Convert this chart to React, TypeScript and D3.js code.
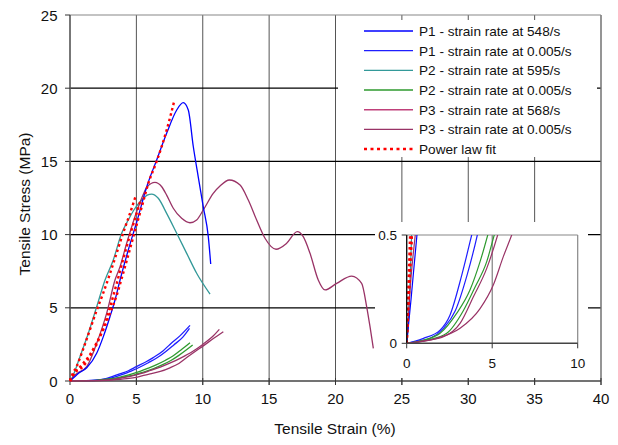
import React from "react";
import * as d3 from "d3";

type Pt = [number, number];

const xTicks = [0, 5, 10, 15, 20, 25, 30, 35, 40];
const yTicks = [0, 5, 10, 15, 20, 25];
const insetXTicks = [0, 5, 10];
const insetYTicks = [0, 0.5];

const legendLabels = [
  "P1 - strain rate at 548/s",
  "P1 - strain rate at 0.005/s",
  "P2 - strain rate at 595/s",
  "P2 - strain rate at 0.005/s",
  "P3 - strain rate at 568/s",
  "P3 - strain rate at 0.005/s",
  "Power law fit",
];

// P1 at 548/s
const p1High: Pt[] = [
  [0, 0], [0.25, 0.2], [0.6, 0.5], [1.26, 0.9], [2.01, 1.89], [2.51, 3.03],
  [3.01, 4.39], [3.39, 5.53], [3.77, 6.9], [4.39, 8.95], [5.07, 11.0], [5.78, 13.27],
  [6.53, 15.1], [7.28, 16.92], [8.04, 18.51], [8.53, 19.01], [8.91, 18.51], [9.29, 16.0],
  [9.66, 13.95], [10.04, 11.9], [10.42, 9.84], [10.6, 7.99],
];
// P2 at 595/s
const p2High: Pt[] = [
  [0, 0], [0.08, 0.07], [0.25, 0.41], [0.75, 1.66], [1.38, 3.26], [2.01, 5.07], [2.64, 6.9],
  [3.26, 8.27], [3.89, 10.09], [4.39, 11.0], [4.9, 11.8], [5.4, 12.36], [5.82, 12.7],
  [6.15, 12.77], [6.65, 12.48], [7.28, 11.45], [8.04, 10.09], [8.79, 8.72], [9.54, 7.36],
  [10.55, 5.94],
];
// P3 at 568/s
const p3High: Pt[] = [
  [0, 0], [0.25, 0.3], [0.5, 0.5], [1.26, 0.98], [2.01, 2.58], [2.76, 4.62], [3.39, 6.9],
  [3.77, 7.81], [4.27, 9.41], [4.65, 10.54], [5.02, 11.56], [5.4, 12.48], [5.82, 13.27],
  [6.4, 13.57], [6.91, 13.27], [7.28, 12.7], [7.78, 11.8], [8.41, 11.11], [9.04, 10.81],
  [9.54, 11.0], [10.04, 11.68], [10.79, 12.82], [11.3, 13.32], [12.0, 13.73], [12.81, 13.39],
  [13.43, 12.36], [14.06, 11.0], [14.69, 9.75], [15.52, 9.0], [16.32, 9.41], [17.12, 10.2],
  [17.57, 9.86], [18.08, 8.72], [18.7, 6.9], [19.21, 6.22], [20.09, 6.67], [21.22, 7.17],
  [21.97, 6.67], [22.35, 5.07], [22.6, 3.71], [22.85, 2.23],
];
// P1 at 0.005/s (two specimens)
const p1LowA: Pt[] = [
  [0, 0], [0.5, 0.01], [0.98, 0.023], [1.95, 0.061], [2.53, 0.13], [3.22, 0.315], [3.8, 0.5],
  [4.4, 0.7], [5.0, 0.98], [5.7, 1.3], [6.27, 1.6], [7.0, 2.05], [7.53, 2.5], [8.3, 3.1], [9.04, 3.8],
];
const p1LowB: Pt[] = [
  [0, 0], [0.7, 0.01], [1.37, 0.023], [2.15, 0.069], [2.84, 0.15], [3.53, 0.315], [4.13, 0.5],
  [4.6, 0.68], [5.2, 0.92], [5.9, 1.25], [6.5, 1.55], [7.2, 2.0], [7.8, 2.45], [8.5, 3.0], [9.0, 3.6],
];
// P2 at 0.005/s
const p2LowA: Pt[] = [
  [0, 0], [1.0, 0.015], [1.95, 0.046], [2.92, 0.138], [3.7, 0.246], [4.29, 0.377], [4.74, 0.5],
  [5.27, 0.66], [5.9, 0.88], [6.53, 1.12], [7.2, 1.42], [7.78, 1.72], [8.4, 2.15], [9.04, 2.62],
];
const p2LowB: Pt[] = [
  [0, 0], [1.2, 0.015], [2.34, 0.046], [3.31, 0.15], [4.0, 0.26], [4.68, 0.377], [5.12, 0.5],
  [5.6, 0.63], [6.3, 0.85], [6.9, 1.08], [7.6, 1.4], [8.2, 1.75], [8.8, 2.15], [9.24, 2.46],
];
// P3 at 0.005/s
const p3LowA: Pt[] = [
  [0, 0], [1.1, 0.012], [2.15, 0.03], [3.12, 0.092], [3.9, 0.215], [4.68, 0.346], [5.32, 0.5],
  [6.0, 0.7], [6.8, 0.95], [7.6, 1.25], [8.4, 1.6], [9.2, 2.0], [10.0, 2.5], [10.7, 3.0], [11.25, 3.53],
];
const p3LowB: Pt[] = [
  [0, 0], [1.75, 0.023], [3.12, 0.069], [4.29, 0.16], [5.07, 0.27], [5.65, 0.4], [6.14, 0.5],
  [6.8, 0.65], [7.53, 0.9], [8.2, 1.2], [8.79, 1.6], [9.4, 2.0], [10.04, 2.4], [10.8, 2.9], [11.55, 3.37],
];
// Power law fits
const fitP1: Pt[] = [
  [0, 0], [0.3, 0.5], [0.8, 1.0], [1.5, 1.8], [2.0, 2.6], [2.5, 3.5], [3.0, 4.6], [3.5, 5.8],
  [3.89, 7.0], [4.39, 8.6], [5.0, 10.6], [5.5, 12.2], [5.9, 13.5], [6.53, 15.0], [7.28, 17.14], [7.86, 19.15],
];
const fitP2: Pt[] = [
  [0, 0], [0.2, 0.5], [0.5, 1.0], [1.0, 2.2], [1.5, 3.5], [2.0, 4.8], [2.5, 6.0], [3.0, 7.3],
  [3.5, 8.7], [4.0, 10.1], [4.5, 11.4], [4.97, 12.7],
];
const fitP3: Pt[] = [
  [0, 0], [0.3, 0.5], [1.0, 1.0], [1.5, 1.7], [2.0, 2.5], [2.5, 3.6], [3.0, 5.0], [3.5, 6.6],
  [4.0, 8.3], [4.5, 9.9], [5.0, 11.4], [5.3, 12.3],
];

const C_P1 = "#0000FF";
const C_P1L = "#1E1EFF";
const C_P2 = "#339999";
const C_P2L = "#2E9A2E";
const C_P3 = "#C0407A";
const C_P3L = "#993366";
const C_FIT = "#FF0000";

const legendColors = [C_P1, C_P1L, C_P2, C_P2L, C_P3, C_P3L, C_FIT];

const series: { data: Pt[]; color: string; dashed?: boolean }[] = [
  { data: p1LowA, color: C_P1L },
  { data: p1LowB, color: C_P1L },
  { data: p2LowA, color: C_P2L },
  { data: p2LowB, color: C_P2L },
  { data: p3LowA, color: C_P3L },
  { data: p3LowB, color: C_P3L },
  { data: p2High, color: C_P2 },
  { data: p3High, color: C_P3L },
  { data: p1High, color: C_P1 },
  { data: fitP2, color: C_FIT, dashed: true },
  { data: fitP3, color: C_FIT, dashed: true },
  { data: fitP1, color: C_FIT, dashed: true },
];

const FONT = "'Liberation Sans', Arial, sans-serif";

export default function App() {
  const W = 618, H = 445;
  const x = d3.scaleLinear().domain([0, 40]).range([70, 601]);
  const y = d3.scaleLinear().domain([0, 25]).range([381, 15]);
  const ix = d3.scaleLinear().domain([0, 10]).range([406.7, 577.7]);
  const iy = d3.scaleLinear().domain([0, 0.5]).range([343.3, 235]);

  const mainLine = d3.line<Pt>().x((d) => x(d[0])).y((d) => y(d[1])).curve(d3.curveMonotoneX);
  const insetLine = d3.line<Pt>().x((d) => ix(d[0])).y((d) => iy(d[1])).curve(d3.curveMonotoneX);

  const [x0, x1] = x.range();
  const [y0, y1] = y.range();

  return (
    <svg width={W} height={H} style={{ position: "absolute", left: 0, top: 0, background: "#fff" }} fontFamily={FONT}>
      <defs>
        <clipPath id="insetClip">
          <rect x={ix(0)} y={iy(0.5)} width={ix(10) - ix(0)} height={iy(0) - iy(0.5)} />
        </clipPath>
      </defs>
      <rect x={0} y={0} width={W} height={H} fill="#fff" />

      {/* vertical gridlines */}
      {xTicks.slice(1).map((t) => (
        <line key={"vg" + t} x1={x(t)} x2={x(t)} y1={y1} y2={y0 + 4} stroke="#555" strokeWidth={1} />
      ))}
      {/* horizontal gridlines */}
      {yTicks.slice(1, -1).map((t) => (
        <line key={"hg" + t} x1={x0} x2={x1} y1={y(t)} y2={y(t)} stroke="#000" strokeWidth={1.2} />
      ))}
      {/* frame */}
      <line x1={x0} x2={x1} y1={y1} y2={y1} stroke="#888" strokeWidth={1.2} />
      <line x1={x1} x2={x1} y1={y1} y2={y0} stroke="#888" strokeWidth={1.2} />
      <line x1={x0} x2={x0} y1={y1} y2={y0} stroke="#555" strokeWidth={1.6} />
      <line x1={x0} x2={x1} y1={y0} y2={y0} stroke="#444" strokeWidth={1.4} />
      {yTicks.map((t) => (
        <line key={"yt" + t} x1={x0 - 5} x2={x0} y1={y(t)} y2={y(t)} stroke="#333" strokeWidth={1} />
      ))}
      {xTicks.map((t) => (
        <line key={"xt" + t} x1={x(t)} x2={x(t)} y1={y0 - 3} y2={y0 + 4} stroke="#333" strokeWidth={1} />
      ))}
      {yTicks.map((t) => (
        <text key={"yl" + t} x={57.5} y={y(t) + 5.5} fontSize={15} textAnchor="end" fill="#111">{t}</text>
      ))}
      {xTicks.map((t) => (
        <text key={"xl" + t} x={x(t)} y={404} fontSize={15} textAnchor="middle" fill="#111">{t}</text>
      ))}
      <text x={335} y={434} fontSize={15.5} textAnchor="middle" fill="#111">Tensile Strain (%)</text>
      <text transform="translate(30,204) rotate(-90)" fontSize={15.5} textAnchor="middle" fill="#111">Tensile Stress (MPa)</text>

      {/* main curves */}
      {series.map((s, i) => (
        <path key={"m" + i} d={mainLine(s.data) || ""} fill="none" stroke={s.color}
          strokeWidth={s.dashed ? 2.4 : 1.3} strokeDasharray={s.dashed ? "2.5,3" : undefined} />
      ))}

      {/* legend */}
      <rect x={338} y={20} width={259} height={137} fill="#fff" />
      {legendLabels.map((lab, i) => {
        const cy = 31 + i * 19.67;
        const dashed = i === legendLabels.length - 1;
        return (
          <g key={"lg" + i}>
            <line x1={364} x2={413} y1={cy} y2={cy} stroke={legendColors[i]}
              strokeWidth={dashed ? 2.4 : 1.4} strokeDasharray={dashed ? "3,3.5" : undefined} />
            <text x={419} y={cy + 5} fontSize={13.6} fill="#111">{lab}</text>
          </g>
        );
      })}

      {/* inset */}
      <rect x={375} y={222} width={213} height={156} fill="#fff" />
      <line x1={ix(5)} x2={ix(5)} y1={iy(0.5)} y2={iy(0)} stroke="#666" strokeWidth={1} />
      <line x1={ix(0)} x2={ix(10)} y1={iy(0.5)} y2={iy(0.5)} stroke="#888" strokeWidth={1.2} />
      <line x1={ix(10)} x2={ix(10)} y1={iy(0.5)} y2={iy(0)} stroke="#888" strokeWidth={1.2} />
      <g clipPath="url(#insetClip)">
        {series.map((s, i) => (
          <path key={"i" + i} d={insetLine(s.data) || ""} fill="none" stroke={s.color}
            strokeWidth={s.dashed ? 2.4 : 1.2} strokeDasharray={s.dashed ? "2.5,3" : undefined} />
        ))}
      </g>
      <line x1={ix(0)} x2={ix(0)} y1={iy(0.5)} y2={iy(0)} stroke="#111" strokeWidth={1.4} />
      <line x1={ix(0)} x2={ix(10)} y1={iy(0)} y2={iy(0)} stroke="#444" strokeWidth={1.4} />
      {insetYTicks.map((t) => (
        <g key={"iyt" + t}>
          <line x1={ix(0) - 5} x2={ix(0)} y1={iy(t)} y2={iy(t)} stroke="#333" />
          <text x={397} y={iy(t) + 5} fontSize={13.5} textAnchor="end" fill="#111">{t}</text>
        </g>
      ))}
      {insetXTicks.map((t) => (
        <g key={"ixt" + t}>
          <line x1={ix(t)} x2={ix(t)} y1={iy(0)} y2={iy(0) + 5} stroke="#333" />
          <text x={ix(t)} y={368} fontSize={13.5} textAnchor="middle" fill="#111">{t}</text>
        </g>
      ))}
    </svg>
  );
}
